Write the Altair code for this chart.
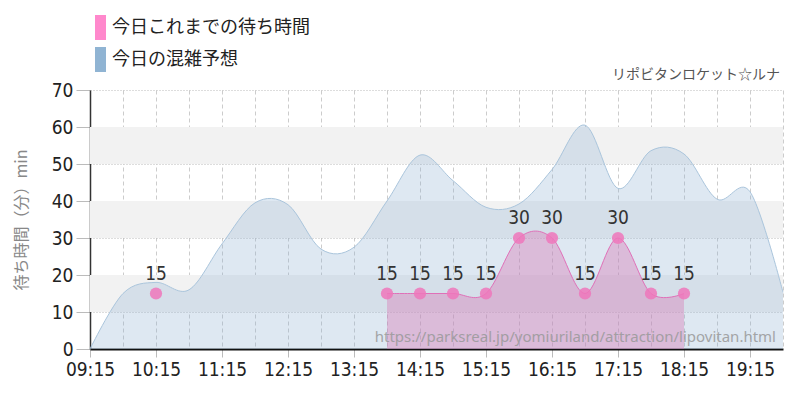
import altair as alt
import pandas as pd

# ---- data ----
forecast_times = ["09:15", "09:45", "10:15", "10:45", "11:15", "11:45", "12:15", "12:45",
                  "13:15", "13:45", "14:15", "14:45", "15:15", "15:45", "16:15", "16:45",
                  "17:15", "17:45", "18:15", "18:45", "19:15", "19:45"]
forecast_values = [0, 15, 18, 16, 28.4, 39.5, 39, 27, 27.5, 40, 52.4, 45.5, 38.3, 39.2,
                   48.5, 60.5, 43.4, 53.6, 52.7, 40.5, 42.5, 15.3]

actual_times = ["10:15", "13:45", "14:15", "14:45", "15:15", "15:45", "16:15", "16:45",
                "17:15", "17:45", "18:15"]
actual_values = [15, 15, 15, 15, 15, 30, 30, 15, 30, 15, 15]
actual_segment = ["a", "b", "b", "b", "b", "b", "b", "b", "b", "b", "b"]

band_low = [10, 30, 50]
band_high = [20, 40, 60]

x_tick_labels = ["09:15", "10:15", "11:15", "12:15", "13:15", "14:15", "15:15",
                 "16:15", "17:15", "18:15", "19:15"]
y_ticks = [0, 10, 20, 30, 40, 50, 60, 70]

legend_labels = ["今日これまでの待ち時間", "今日の混雑予想"]
legend_colors = ["#ff88cc", "#90b4d3"]

caption = "リポビタンロケット☆ルナ"
watermark = "https://parksreal.jp/yomiuriland/attraction/lipovitan.html"
y_title = "待ち時間（分）min"


def to_min(s):
    h, m = s.split(":")
    return int(h) * 60 + int(m)


fc = pd.DataFrame({"t": [to_min(s) for s in forecast_times], "v": forecast_values})
ac = pd.DataFrame({"t": [to_min(s) for s in actual_times], "v": actual_values,
                   "seg": actual_segment})
bands = pd.DataFrame({"lo": band_low, "hi": band_high})

W, H = 693, 259
x0, x1 = to_min("09:15"), to_min("19:45")
NUM_FONT = "'DejaVu Sans Condensed', 'Liberation Sans Narrow', sans-serif"
JP_FONT = "'Noto Sans CJK JP', 'Noto Sans', sans-serif"

grid_vals = list(range(x0, x1 + 1, 30))

x_scale = alt.Scale(domain=[x0, x1], nice=False, zero=False)
y_scale = alt.Scale(domain=[0, 70], nice=False)

x_axis = alt.Axis(
    values=grid_vals,
    labelExpr=f"(datum.value - {x0}) % 60 == 0 ? ((floor(datum.value/60) < 10 ? '0' : '') + floor(datum.value/60) + ':' + (datum.value % 60 < 10 ? '0' : '') + (datum.value % 60)) : ''",
    grid=True, gridColor="#cccccc", gridDash=[4, 3], gridWidth=1,
    tickColor="#bbbbbb", tickSize=8,
    tickOpacity={"condition": {"test": f"(datum.value - {x0}) % 60 != 0", "value": 0}, "value": 1},
    domainColor="#111111", domainWidth=2,
    labelFont=NUM_FONT, labelFontSize=19, labelColor="#222222", labelPadding=3,
    labelFlush=False, labelOverlap=False,
    title=None,
)
y_axis = alt.Axis(
    values=y_ticks, grid=True, gridColor="#bbbbbb", gridDash=[1, 2],
    tickColor="#bbbbbb", tickSize=14,
    domainColor="#333333", domainWidth=1.5,
    labelFont=NUM_FONT, labelFontSize=19, labelColor="#222222", labelPadding=3,
    title=y_title, titleFont=JP_FONT, titleFontSize=16, titleFontWeight="normal",
    titleColor="#888888", titlePadding=22,
)

X = alt.X("t:Q", scale=x_scale, axis=x_axis)
Y = alt.Y("v:Q", scale=y_scale, axis=y_axis)

band_layer = alt.Chart(bands).mark_rect(color="#f2f2f2").encode(
    x=alt.value(0), x2=alt.value(W),
    y=alt.Y("lo:Q", scale=y_scale, axis=y_axis), y2="hi:Q",
)

fc_area = alt.Chart(fc).mark_area(interpolate="cardinal", color="#92b4d3", opacity=0.3).encode(x=X, y=Y)
fc_line = alt.Chart(fc).mark_line(interpolate="cardinal", color="#aac5dc", strokeWidth=1).encode(x=X, y=Y)

seg = ac[ac["seg"] == "b"]
ac_area = alt.Chart(seg).mark_area(interpolate="cardinal", color="#d878b4", opacity=0.4).encode(x=X, y=Y)
ac_line = alt.Chart(seg).mark_line(interpolate="cardinal", color="#e070b8", strokeWidth=1).encode(x=X, y=Y)
ac_pts = alt.Chart(ac).mark_circle(size=150, color="#ee77bb", opacity=0.85).encode(x=X, y=Y)
ac_txt = alt.Chart(ac).mark_text(dy=-20, font=NUM_FONT, fontSize=19, color="#333333").encode(
    x=X, y=Y, text=alt.Text("v:Q"))

one = alt.Data(values=[{"a": 1}])
leg_r1 = alt.Chart(one).mark_rect(color=legend_colors[0]).encode(
    x=alt.value(5), x2=alt.value(16), y=alt.value(-75), y2=alt.value(-50))
leg_r2 = alt.Chart(one).mark_rect(color=legend_colors[1]).encode(
    x=alt.value(5), x2=alt.value(16), y=alt.value(-43), y2=alt.value(-18))
leg_t1 = alt.Chart(one).mark_text(align="left", baseline="middle", font=JP_FONT, fontSize=18,
                                  color="#222222", text=legend_labels[0]).encode(
    x=alt.value(22), y=alt.value(-62))
leg_t2 = alt.Chart(one).mark_text(align="left", baseline="middle", font=JP_FONT, fontSize=18,
                                  color="#222222", text=legend_labels[1]).encode(
    x=alt.value(22), y=alt.value(-30))
cap = alt.Chart(one).mark_text(align="right", baseline="middle", font=JP_FONT, fontSize=14,
                               color="#555555", text=caption).encode(
    x=alt.value(690), y=alt.value(-15))
wm = alt.Chart(one).mark_text(align="right", baseline="middle", font="'Noto Sans', sans-serif",
                              fontSize=15, color="#999999", opacity=0.85, text=watermark).encode(
    x=alt.value(686), y=alt.value(247))

chart = alt.layer(
    band_layer, fc_area, fc_line, ac_area, ac_line, wm, ac_pts, ac_txt,
    leg_r1, leg_r2, leg_t1, leg_t2, cap,
).properties(
    width=W, height=H,
    autosize=alt.AutoSizeParams(type="none"),
    padding={"left": 82, "top": 82, "right": 9, "bottom": 43},
    background="white",
).configure_view(stroke=None)

chart.save("out.html", embed_options={"renderer": "svg", "actions": False})
